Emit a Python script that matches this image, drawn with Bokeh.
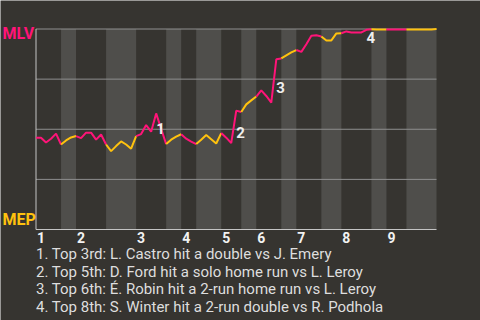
from bokeh.plotting import figure
from bokeh.models import Range1d
from bokeh.core.properties import value
from bokeh.embed import file_html
from bokeh.resources import INLINE

# ---- data ----
teams = ["MLV", "MEP"]          # away (top), home (bottom)
team_y = [0.976, 0.049]         # label centres (0 = MEP wins, 1 = MLV wins)
innings = ["1", "2", "3", "4", "5", "6", "7", "8", "9"]
# plate-appearance index where each half inning starts (last = end of game)
half_starts = [0, 5, 8, 14, 20, 26, 29, 32, 37, 41, 44, 49, 52, 57, 61, 67, 70, 74, 80]
# MLV win probability after each plate appearance
win_prob = [
    0.458, 0.458, 0.434, 0.453, 0.478,
    0.424, 0.444, 0.459,
    0.466, 0.456, 0.483, 0.483, 0.448, 0.474,
    0.424, 0.391, 0.416, 0.439, 0.424, 0.403,
    0.466, 0.476, 0.521, 0.488, 0.579, 0.502,
    0.426, 0.448, 0.463,
    0.475, 0.453, 0.438,
    0.426, 0.448, 0.471, 0.450, 0.429,
    0.481, 0.458, 0.431, 0.593,
    0.586, 0.624, 0.644,
    0.663, 0.694, 0.666, 0.633, 0.849,
    0.853, 0.868, 0.883,
    0.895, 0.886, 0.924, 0.966, 0.969,
    0.963, 0.943, 0.943, 0.978,
    0.979, 0.988, 0.983, 0.983, 0.983, 0.996,
    0.999, 0.998, 0.998,
    0.998, 0.998, 0.998, 0.998,
    0.998, 0.998, 0.998, 0.998, 0.998, 0.998, 1.0,
]
grid_levels = [0.25, 0.5, 0.75, 1.0]
event_pa = [24, 40, 48, 66]
event_label_y = [0.504, 0.484, 0.708, 0.960]
event_names = ["1", "2", "3", "4"]
event_texts = [
    "1. Top 3rd: L. Castro hit a double vs J. Emery",
    "2. Top 5th: D. Ford hit a solo home run vs L. Leroy",
    "3. Top 6th: É. Robin hit a 2-run home run vs L. Leroy",
    "4. Top 8th: S. Winter hit a 2-run double vs R. Podhola",
]

# ---- style ----
BG = "#363430"
BAND = "#4f4e4b"
PINK = "#ff1478"
YELLOW = "#ffc20e"
GRID = "#8f8f8f"
AXIS = "#c4c4c4"
FONT = "Roboto"

n_pa = half_starts[-1]
# frame covers the whole canvas; plot area (0..n_pa) sits at 35.5..436 px
sx = (436 - 35.5) / n_pa
x_start = -35.5 / sx
x_end = n_pa + 44 / sx
# y: value 1 at 28.5 px, value 0 at 229 px; frame 0..320 px
sy = (229 - 28.5)
y_end = 1 + 28.5 / sy
y_start = -(320 - 229) / sy
px = 1 / sy  # one pixel in y data units

p = figure(width=480, height=320, output_backend="svg", toolbar_location=None,
           x_range=Range1d(x_start, x_end), y_range=Range1d(y_start, y_end),
           min_border=0)
p.background_fill_color = BG
p.border_fill_color = BG
p.outline_line_color = None
p.xgrid.visible = False
p.ygrid.visible = False
p.xaxis.visible = False
p.yaxis.visible = False

# bottom-half bands
band_left = half_starts[1::2]
band_right = half_starts[2::2]
p.quad(left=band_left, right=band_right, bottom=0, top=1,
       fill_color=BAND, line_color=None)

# horizontal grid lines
p.segment(x0=[0] * len(grid_levels), x1=[n_pa] * len(grid_levels),
          y0=grid_levels, y1=grid_levels, line_color=GRID, line_width=1)
# axis lines
p.segment(x0=[0, 0], x1=[0, n_pa], y0=[0, 0], y1=[1, 0],
          line_color=AXIS, line_width=1)

# win probability line, coloured by batting team
xs, ys, cols = [], [], []
for k in range(len(half_starts) - 1):
    a, b = half_starts[k], half_starts[k + 1]
    xs.append(list(range(a, b + 1)))
    ys.append(win_prob[a:b + 1])
    cols.append(PINK if k % 2 == 0 else YELLOW)
p.multi_line(xs=xs, ys=ys, line_color=cols, line_width=2)

# event markers
p.text(x=event_pa, y=event_label_y, text=event_names, text_color="#eeeeee",
       text_font=value(FONT), text_font_size="15px", text_font_style="bold",
       text_align="left", text_baseline="middle")

# team labels
p.text(x=[x_start + 2 / sx] * 2, y=team_y, text=teams,
       text_color=[PINK, YELLOW], text_font=value(FONT), text_font_size="16px",
       text_font_style="bold", text_align="left", text_baseline="middle")

# inning numbers along the bottom (centred just right of each inning start)
inning_starts = half_starts[0:-1:2]
p.text(x=[s + 1 for s in inning_starts], y=[-7.7 * px] * len(innings),
       text=innings, text_color="#f2f2f2", text_font=value(FONT),
       text_font_size="14px", text_font_style="bold",
       text_align="center", text_baseline="middle")

# event descriptions
cap_y = [-(24.2 + 17.8 * i) * px for i in range(len(event_texts))]
p.text(x=[0] * len(event_texts), y=cap_y, text=event_texts,
       text_color="#dedede", text_font=value(FONT), text_font_size="15px",
       text_align="left", text_baseline="middle")

open("out.html", "w").write(file_html(p, INLINE))
